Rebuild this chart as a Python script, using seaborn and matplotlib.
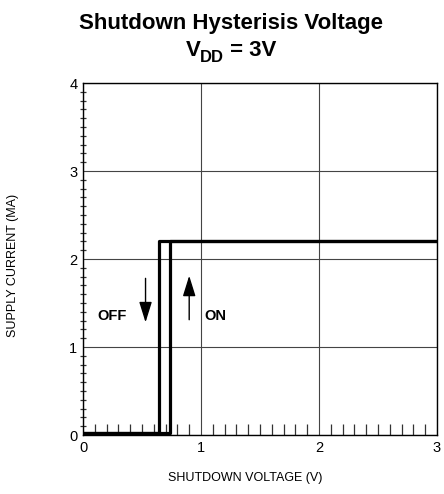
import matplotlib
matplotlib.use("Agg")
import matplotlib.pyplot as plt
from matplotlib.ticker import MultipleLocator
import numpy as np
import pandas as pd
import seaborn as sns

# Hysteresis loop of supply current vs. shutdown pin voltage
off_voltage = [3.0, 0.64, 0.64, 0.0]      # falling input: turns off at 0.64 V
off_current = [2.2, 2.2, 0.02, 0.02]
on_voltage = [0.0, 0.74, 0.74, 3.0]       # rising input: turns on at 0.74 V
on_current = [0.02, 0.02, 2.2, 2.2]

x_ticks = [0, 1, 2, 3]
y_ticks = [0, 1, 2, 3, 4]

df = pd.concat([
    pd.DataFrame({"v": off_voltage, "i": off_current, "trace": "OFF"}),
    pd.DataFrame({"v": on_voltage, "i": on_current, "trace": "ON"}),
])

sns.set_theme(style="white")
plt.rcParams["font.family"] = ["Liberation Sans", "DejaVu Sans"]
plt.rcParams["text.color"] = "black"
plt.rcParams["axes.labelcolor"] = "black"

W, H = 444, 494
fig = plt.figure(figsize=(W / 100, H / 100), dpi=100)
ax = fig.add_axes([83 / W, 1 - 435 / H, (437 - 83) / W, (435 - 83) / H])

sns.lineplot(data=df, x="v", y="i", hue="trace", units="trace", estimator=None,
             sort=False, palette=["black", "black"], linewidth=2.3,
             legend=False, ax=ax)

ax.set_xlim(0, 3)
ax.set_ylim(0, 4)
ax.set_xticks(x_ticks)
ax.set_yticks(y_ticks)
ax.xaxis.set_minor_locator(MultipleLocator(0.1))
ax.yaxis.set_minor_locator(MultipleLocator(0.1))
ax.tick_params(axis="both", which="major", length=0, labelsize=10.5,
               colors="black", pad=4)
ax.tick_params(axis="x", which="minor", direction="in", length=8,
               width=0.9, color="#333333", bottom=True)
ax.tick_params(axis="y", which="minor", direction="inout", length=5,
               width=0.9, color="#333333", left=True)
ax.grid(True, which="major", color="#444444", linewidth=0.8)
for s in ax.spines.values():
    s.set_color("black")
    s.set_linewidth(1.0)

ax.set_xlabel("SHUTDOWN VOLTAGE (V)", fontsize=9)
ax.set_ylabel("SUPPLY CURRENT (MA)", fontsize=9)
ax.xaxis.label.set_va("center")
ax.yaxis.label.set_va("center")
ax.xaxis.set_label_coords(0.458, -0.122)
ax.yaxis.set_label_coords(-0.198, 0.483)

# Direction arrows and state labels
arrow_style = dict(arrowstyle="-|>,head_length=0.9,head_width=0.28",
                   color="black", lw=1.0, mutation_scale=14,
                   shrinkA=0, shrinkB=0)
ax.annotate("", xy=(0.53, 1.28), xytext=(0.53, 1.78), arrowprops=arrow_style)
ax.annotate("", xy=(0.90, 1.81), xytext=(0.90, 1.31), arrowprops=arrow_style)
ax.text(0.25, 1.35, "OFF", fontsize=10.5, fontweight="bold",
        ha="center", va="center")
ax.text(1.03, 1.35, "ON", fontsize=10.5, fontweight="bold",
        ha="left", va="center")

# Title: first line, then "V_DD = 3V" assembled from pieces
fig.text(231 / W, 1 - 29 / H, "Shutdown Hysterisis Voltage", fontsize=16,
         fontweight="bold", ha="center", va="baseline")

renderer = fig.canvas.get_renderer()
pieces = [("V", 16, 0), ("DD", 12, 6), (" = 3V", 16, 0)]
widths = []
for txt, size, _ in pieces:
    t = fig.text(0, 0, txt, fontsize=size, fontweight="bold")
    widths.append(t.get_window_extent(renderer).width)
    t.remove()
x0 = 231 - sum(widths) / 2
for (txt, size, drop), w in zip(pieces, widths):
    fig.text(x0 / W, 1 - (56 + drop) / H, txt, fontsize=size,
             fontweight="bold", ha="left", va="baseline")
    x0 += w

fig.savefig("out.png", dpi=100)
